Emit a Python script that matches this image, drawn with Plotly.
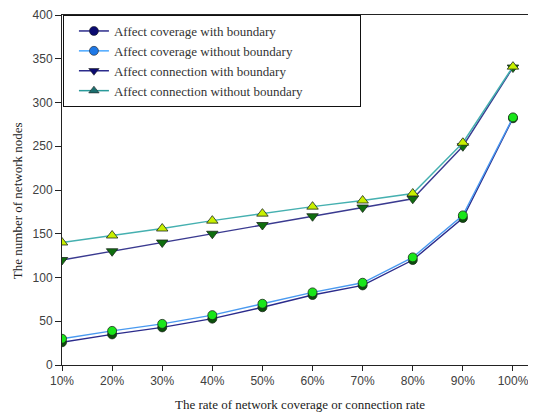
import plotly.graph_objects as go

rates = [10, 20, 30, 40, 50, 60, 70, 80, 90, 100]
rate_labels = ["10%", "20%", "30%", "40%", "50%", "60%", "70%", "80%", "90%", "100%"]

cov_with = [26, 35, 43, 53, 66, 80, 91, 120, 168, 282]
cov_without = [30, 39, 47, 57, 70, 83, 94, 123, 171, 283]
con_with = [120, 130, 140, 150, 160, 170, 180, 190, 250, 340]
con_without = [140, 148, 156, 165, 173, 181, 188, 196, 254, 341]

names = [
    "Affect coverage with boundary",
    "Affect coverage without boundary",
    "Affect connection with boundary",
    "Affect connection without boundary",
]
x_title = "The rate of network coverage or connection rate"
y_title = "The number of network nodes"

fig = go.Figure()

# data traces (plot styling)
series = [
    (cov_with, "#2b2b8c", "circle", "#0b4f0b", 9),
    (cov_without, "#4a9af0", "circle", "#19e619", 9),
    (con_with, "#3a3a90", "triangle-down", "#0f6e0f", 10),
    (con_without, "#45b0b0", "triangle-up", "#c8f000", 10),
]
for vals, lc, sym, mc, ms in series:
    fig.add_trace(go.Scatter(
        x=rates, y=vals, mode="lines+markers", showlegend=False,
        line=dict(color=lc, width=1.4),
        marker=dict(symbol=sym, color=mc, size=ms, line=dict(color="#1a2a1a", width=0.8)),
    ))

# legend entries (legend styling)
legend_styles = [
    ("#2b2b8c", "circle", "#0a0a70"),
    ("#4aa8ff", "circle", "#1e78e6"),
    ("#2b2b8c", "triangle-down", "#0a0a70"),
    ("#2a9a9a", "triangle-up", "#1a6e6e"),
]
pad = "\u00a0" * 16
for i, (name, (lc, sym, mc)) in enumerate(zip(names, legend_styles)):
    label = name + (pad if i == 3 else "")
    fig.add_trace(go.Scatter(
        x=[None], y=[None], mode="lines+markers", name=label,
        line=dict(color=lc, width=1.5),
        marker=dict(symbol=sym, color=mc, size=9, line=dict(color="#222222", width=0.6)),
    ))

# the page body has an 8px margin, so the figure is sized/offset to compensate
fig.update_layout(
    width=528, height=404,
    margin=dict(l=54, r=7, t=7, b=47, autoexpand=False),
    paper_bgcolor="white", plot_bgcolor="white",
    font=dict(family="Liberation Sans", size=12, color="#404040"),
    xaxis=dict(
        range=[10, 103.2], tickmode="array", tickvals=rates, ticktext=rate_labels,
        showgrid=False, zeroline=False, showline=True, linecolor="#222222", linewidth=1,
        mirror=True, ticks="outside", ticklen=5, tickcolor="#222222", automargin=False,
        tickfont=dict(family="Liberation Sans", size=12, color="#404040"),
    ),
    yaxis=dict(
        range=[0, 400], dtick=50,
        showgrid=False, zeroline=False, showline=True, linecolor="#222222", linewidth=1,
        mirror=True, ticks="outside", ticklen=6, tickcolor="#222222", automargin=False,
        tickfont=dict(family="Liberation Sans", size=12, color="#404040"),
    ),
    legend=dict(
        x=0.002, y=1, xanchor="left", yanchor="top",
        bgcolor="white", bordercolor="#111111", borderwidth=1,
        font=dict(family="Liberation Serif", size=13, color="#333333"),
        indentation=10, tracegroupgap=0,
    ),
    annotations=[
        dict(text=x_title, xref="paper", yref="paper", x=0.51, y=-0.114,
             xanchor="center", yanchor="middle", showarrow=False,
             font=dict(family="Liberation Serif", size=13, color="#222222")),
        dict(text=y_title, xref="paper", yref="paper", x=-0.0964, y=0.471,
             xanchor="center", yanchor="middle", showarrow=False, textangle=-90,
             font=dict(family="Liberation Serif", size=13, color="#222222")),
    ],
)

fig.write_html("out.html")
